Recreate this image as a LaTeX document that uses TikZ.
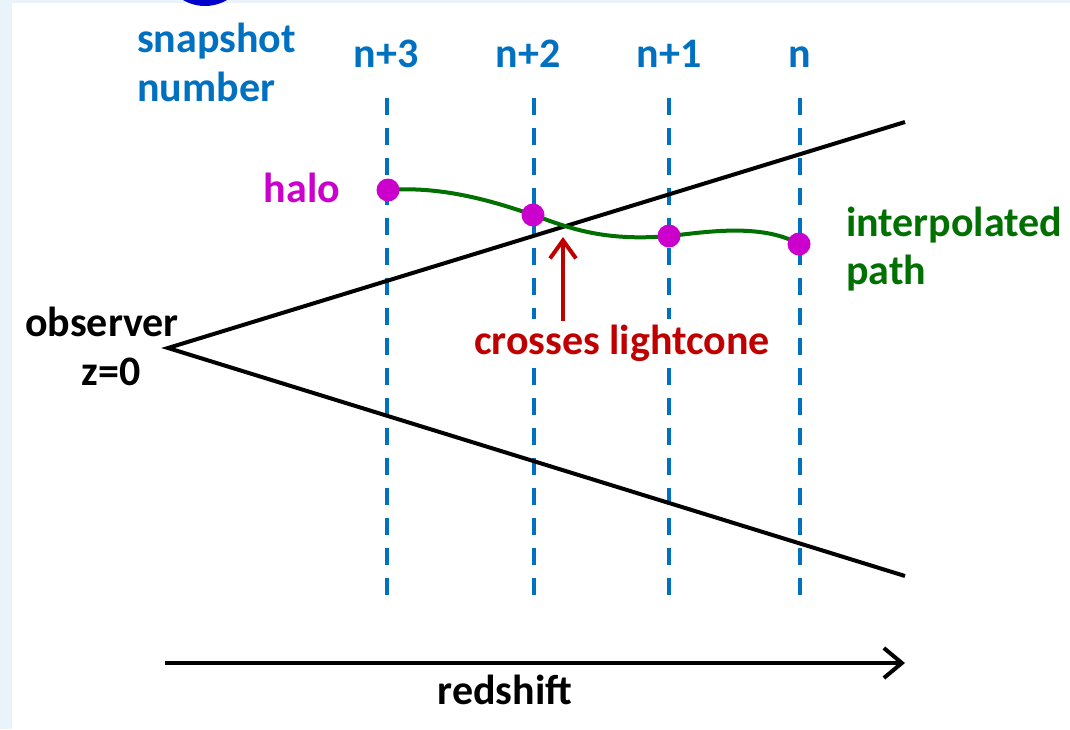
\documentclass[tikz,border=0pt]{standalone}
\usepackage{fontspec}
\setmainfont{Carlito}
\usetikzlibrary{arrows.meta}
\definecolor{bgblue}{HTML}{EAF2FA}
\definecolor{snapblue}{HTML}{0070C0}
\definecolor{halomag}{HTML}{CC00CC}
\definecolor{pathgreen}{HTML}{007000}
\definecolor{crossred}{HTML}{C00000}
\definecolor{blobblue}{HTML}{0000CC}
\tikzset{
  lbl/.style={inner sep=0pt, font=\fontsize{42}{50}\selectfont\bfseries},
  snapline/.style={snapblue, line width=4pt, dash pattern=on 17pt off 13pt},
  cone/.style={black, line width=4pt},
  halodot/.style={circle, fill=halomag, minimum size=23pt, inner sep=0pt},
  interp/.style={pathgreen, line width=4pt},
}
\begin{document}
\begin{tikzpicture}[x=1pt,y=-1pt]
\useasboundingbox (0,0) rectangle (1070,729);
\fill[bgblue] (0,0) rectangle (1070,729);
\fill[white] (12,3) rectangle (1070,729);
\begin{scope}
\clip (0,0) rectangle (1070,729);
\fill[blobblue] (205,-37) circle (43);
\end{scope}

% snapshot labels
\node[lbl, snapblue, anchor=base west] (snap) at (137,52) {snapshot};
\node[lbl, snapblue, anchor=base west] (numb) at (137,101) {number};
\node[lbl, snapblue, anchor=base] (l3) at (386,67) {n+3};
\node[lbl, snapblue, anchor=base] (l2) at (528,67) {n+2};
\node[lbl, snapblue, anchor=base] (l1) at (669,67) {n+1};
\node[lbl, snapblue, anchor=base] (l0) at (800,67) {n};

% dashed snapshot lines
\foreach \x/\n in {387/s3,534/s2,669/s1,800/s0}{
  \coordinate (\n t) at (\x,98);
  \coordinate (\n b) at (\x,600);
  \draw[snapline] (\n t) -- (\n b);
}

% light cone
\coordinate (apex) at (168,348);
\coordinate (up) at (905,122);
\coordinate (lo) at (905,576);
\draw[cone] (up) -- (apex) -- (lo);

% interpolated path
\coordinate (h3) at (388,190);
\coordinate (h2) at (533,215);
\coordinate (h1) at (669,236);
\coordinate (h0) at (799,244);
\draw[interp] (h3) .. controls (440,186) and (490,200) .. (h2)
  .. controls (565,226) and (600,242) .. (h1)
  .. controls (700,233) and (760,222) .. (h0);
\node[halodot] (d3) at (h3) {};
\node[halodot] (d2) at (h2) {};
\node[halodot] (d1) at (h1) {};
\node[halodot] (d0) at (h0) {};

% labels
\node[lbl, halomag, anchor=base] (halo) at (302,202) {halo};
\node[lbl, black, anchor=base] (obs) at (102,336) {observer};
\node[lbl, black, anchor=base] (z0) at (111,385) {z=0};
\node[lbl, pathgreen, anchor=base west] (interp1) at (846,236) {interpolated};
\node[lbl, pathgreen, anchor=base west] (interp2) at (846,284) {path};
\node[lbl, crossred, anchor=base, fill=white, inner ysep=6pt, inner xsep=2pt] (cross) at (622,354) {crosses lightcone};

% crossing arrow
\coordinate (crosspt) at (563,237);
\draw[crossred, line width=4pt, -{Straight Barb[length=18pt,width=26pt,line width=4pt]}] (cross.north -| crosspt) ++(0,3) -- (crosspt);

% redshift axis
\coordinate (ax0) at (165,663);
\coordinate (ax1) at (905,663);
\draw[black, line width=4pt, -{Straight Barb[length=18pt,width=30pt,line width=4pt]}] (ax0) -- (ax1);
\node[lbl, black, anchor=base] (rs) at (505,704) {redshift};
\end{tikzpicture}
\end{document}
